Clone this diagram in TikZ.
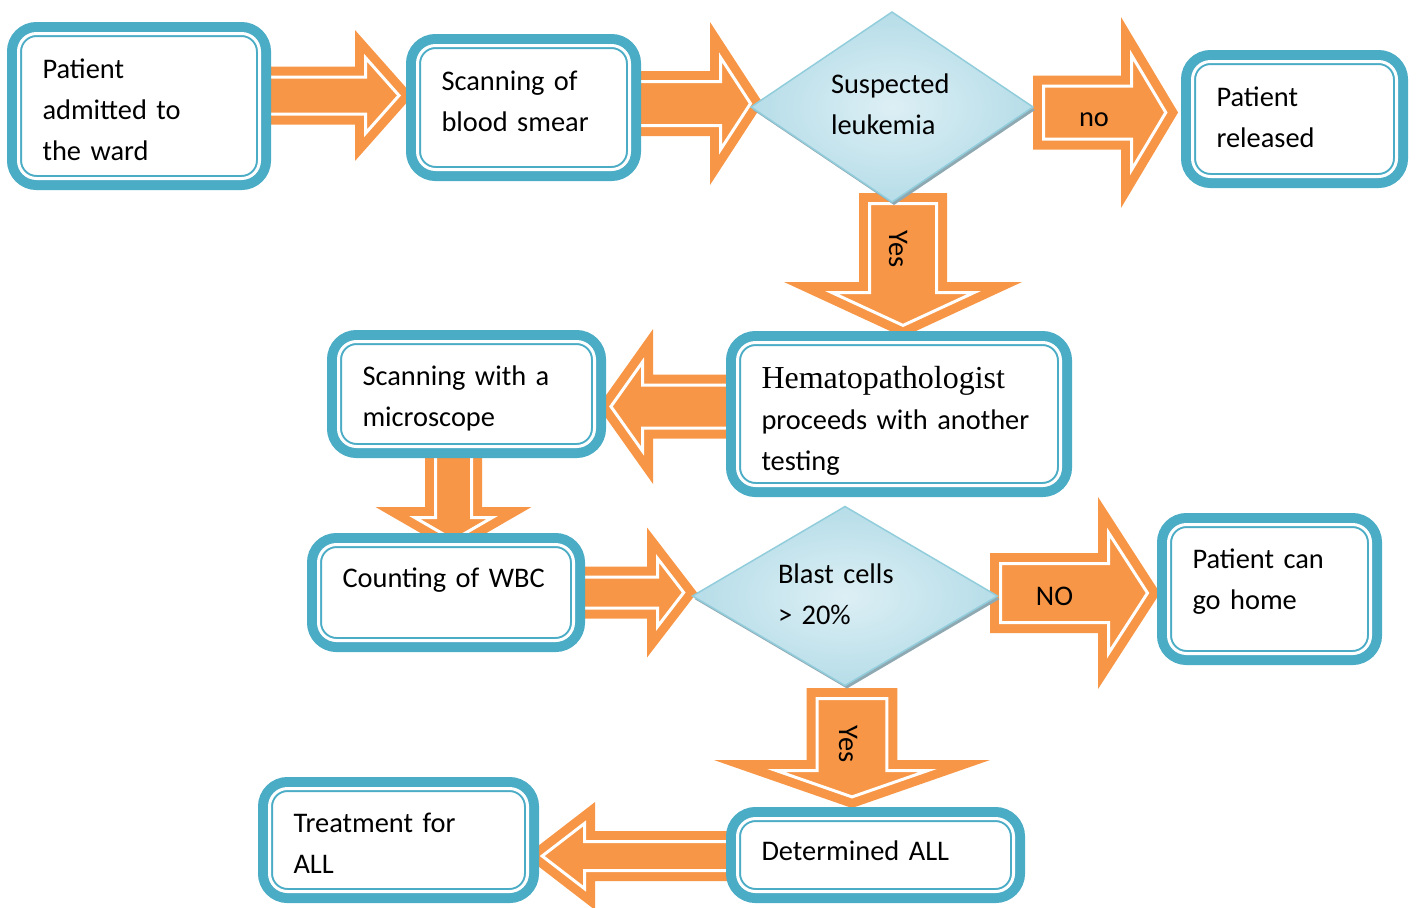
\documentclass[tikz,border=0pt]{standalone}
\usepackage{fontspec}
\setmainfont{Carlito}
\newfontfamily\timesfont{Liberation Serif}
\usetikzlibrary{calc,shapes.geometric,backgrounds}
\definecolor{boxteal}{HTML}{4BACC6}
\definecolor{arroworange}{HTML}{F79646}
\definecolor{diaminner}{HTML}{DDEFF5}
\definecolor{diamouter}{HTML}{B6DDE8}
\definecolor{diamedge}{HTML}{92CDDC}
\definecolor{diamshadow}{HTML}{8FA9B3}
\begin{document}
\begin{tikzpicture}[x=0.5pt,y=-0.5pt,font=\fontsize{14.2pt}{20.5pt}\selectfont,
 box/.style n args={2}{draw=boxteal,line width=1pt,double=white,double distance=1.5pt,fill=white,
   preaction={draw=boxteal,line width=11.5pt},rounded corners=9pt,inner xsep=12pt,inner ysep=0pt,
   outer sep=0pt,align=left,text height=10pt,minimum width=#1,text width=#1-24pt,minimum height=#2},
 decision/.style={diamond,aspect=1.5,draw=diamedge,line width=.75pt,inner color=diaminner,outer color=diamouter,
   inner sep=0pt,outer sep=0pt,align=left,text height=10pt,
   preaction={fill=diamshadow,transform canvas={shift={(1pt,-1.5pt)}}}},
 fatarrow/.style n args={3}{draw=arroworange,fill=arroworange,line width=4.5pt,double=white,
   double distance=1.5pt,line join=miter,
   to path={($(\tikztotarget)!#3!(\tikztostart)$) coordinate (hb)
     ($(\tikztostart)!#1!90:(\tikztotarget)$) -- ($(hb)!#1!90:(\tikztotarget)$)
     -- ($(hb)!#2!90:(\tikztotarget)$) -- (\tikztotarget)
     -- ($(hb)!#2!-90:(\tikztotarget)$) -- ($(hb)!#1!-90:(\tikztotarget)$)
     -- ($(\tikztostart)!#1!-90:(\tikztotarget)$) -- cycle
     ($(\tikztostart)!.5!(hb)$) -- ++(0,0) \tikztonodes}},
 lbl/.style={inner sep=0pt}]
\useasboundingbox (0,0) rectangle (1416,907);
\node[box={120.5pt}{72.5pt},text depth=38pt] (adm) at (139,106) {Patient\\admitted to\\the ward};
\node[box={106pt}{62pt},text depth=27.5pt] (smear) at (523.5,107.5) {Scanning of\\blood smear};
\node[decision,minimum width=141pt,minimum height=95pt,text width=61pt,text depth=24pt] (sus) at (892,107) {Suspected\\leukemia};
\node[box={102pt}{57.5pt},text depth=23pt] (rel) at (1294.5,119) {Patient\\released};
\node[box={161.5pt}{71.5pt},text depth=36pt] (hema) at (899,414) {{\timesfont\fontsize{16pt}{20pt}\selectfont Hematopathologist}\\proceeds with another\\testing};
\node[box={128pt}{52.5pt},text depth=19pt] (micro) at (466.5,394) {Scanning with a\\microscope};
\node[box={127.5pt}{48pt},text depth=15.5pt] (wbc) at (446,592.5) {Counting of WBC};
\node[decision,minimum width=152.5pt,minimum height=89.5pt,text width=67pt,text depth=23pt] (blast) at (845,596) {Blast cells\\> 20\%};
\node[box={101pt}{64.5pt},text depth=31pt] (home) at (1269.5,589) {Patient can\\go home};
\node[box={138pt}{36.5pt},text depth=5pt] (det) at (875.5,855) {Determined ALL};
\node[box={129pt}{51.5pt},text depth=18pt] (treat) at (398.5,840) {Treatment for\\ALL};
\begin{scope}[on background layer]
\draw[fatarrow={9.25pt}{18.9pt}{16.75pt}] ([yshift=5.25pt]adm.east) to ([xshift=-9.25pt,yshift=6pt]smear.west);
\draw[fatarrow={11pt}{23.05pt}{15pt}] ([yshift=2pt]smear.east) to ([xshift=-0.25pt,yshift=1.75pt]sus.west);
\draw[fatarrow={13.25pt}{28.7pt}{17.15pt}] ([xshift=5.25pt,yshift=-2.75pt]sus.east) to node[lbl,xshift=3.25pt,yshift=-3.75pt] {no} ([xshift=-13.35pt,yshift=3.25pt]rel.west);
\draw[fatarrow={16.75pt}{35.6pt}{16.45pt}] ([xshift=5.5pt,yshift=-0.75pt]sus.south) to node[lbl,xshift=-2.5pt,yshift=-0.5pt,rotate=-90] {Yes} ([xshift=2pt,yshift=8.55pt]hema.north);
\draw[fatarrow={10.75pt}{22.25pt}{15.8pt}] ([yshift=3.75pt]hema.west) to ([xshift=8.2pt,yshift=-6.25pt]micro.east);
\draw[fatarrow={9pt}{19.4pt}{11.2pt}] ([xshift=-6.5pt]micro.south) to ([xshift=3.75pt,yshift=2.3pt]wbc.north);
\draw[fatarrow={7.75pt}{17.05pt}{13.1pt}] (wbc.east) to ([xshift=-4.4pt,yshift=1.75pt]blast.west);
\draw[fatarrow={14.75pt}{30.2pt}{19.5pt}] ([xshift=1.5pt,yshift=1.5pt]blast.east) to node[lbl,yshift=-1.5pt] {NO} ([xshift=-10.5pt,yshift=-2pt]home.west);
\draw[fatarrow={17.4pt}{37.95pt}{13.2pt}] ([xshift=3.5pt,yshift=-6.5pt]blast.south) to node[lbl,xshift=-2pt,yshift=-4.75pt,rotate=-90] {Yes} ([xshift=-11.75pt,yshift=10.8pt]det.north);
\draw[fatarrow={7.25pt}{16.3pt}{21.15pt}] ([yshift=-0.5pt]det.west) to ([xshift=7.35pt,yshift=-8pt]treat.east);
\end{scope}
\end{tikzpicture}
\end{document}
